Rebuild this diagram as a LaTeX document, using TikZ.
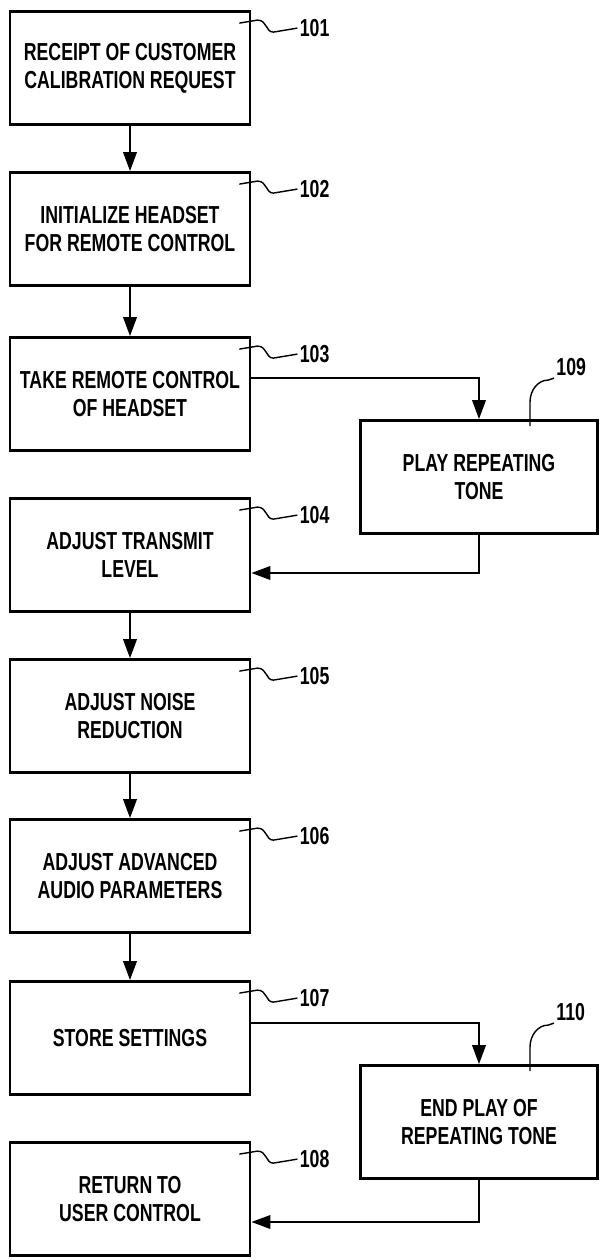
\documentclass[tikz,border=0pt]{standalone}
\usepackage{fontspec}
\setmainfont{Liberation Sans}[FakeStretch=0.72]
\usetikzlibrary{arrows.meta}

\begin{document}
\begin{tikzpicture}[x=0.02cm,y=-0.02cm,
    every node/.style={font=\bfseries\fontsize{14}{16}\selectfont},
    stepbox/.style={draw,line width=1.6pt,align=center,minimum width=4.8cm,minimum height=2.26cm,inner sep=2pt},
    sidebox/.style={stepbox,minimum width=4.74cm},
    flow/.style={line width=1.2pt,-{Triangle[length=0.38cm,width=0.27cm]}},
    lead/.style={line width=0.8pt},
    num/.style={anchor=west,inner sep=1pt}]
    \useasboundingbox (0,0) rectangle (600,1260);
    \node[stepbox] (s101) at (130,68) {RECEIPT OF CUSTOMER\\CALIBRATION REQUEST};
    \node[stepbox] (s102) at (130,229) {INITIALIZE HEADSET\\FOR REMOTE CONTROL};
    \node[stepbox] (s103) at (130,394) {TAKE REMOTE CONTROL\\OF HEADSET};
    \node[stepbox] (s104) at (130,555) {ADJUST TRANSMIT\\LEVEL};
    \node[stepbox] (s105) at (130,716) {ADJUST NOISE\\REDUCTION};
    \node[stepbox] (s106) at (130,876) {ADJUST ADVANCED\\AUDIO PARAMETERS};
    \node[stepbox] (s107) at (130,1038) {STORE SETTINGS};
    \node[stepbox] (s108) at (130,1199) {RETURN TO\\USER CONTROL};
    \node[sidebox] (s109) at (479,477) {PLAY REPEATING\\TONE};
    \node[sidebox] (s110) at (479,1122) {END PLAY OF\\REPEATING TONE};
    \draw[flow] (s101) -- (s102);
    \draw[flow] (s102) -- (s103);
    \draw[flow] (s104) -- (s105);
    \draw[flow] (s105) -- (s106);
    \draw[flow] (s106) -- (s107);
    \draw[flow] ([yshift=0.32cm]s103.east) -| (s109);
    \draw[flow] (s109) |- ([yshift=-0.36cm]s104.east);
    \draw[flow] ([yshift=0.30cm]s107.east) -| (s110);
    \draw[flow] (s110) |- ([yshift=-0.46cm]s108.east);
    \draw[lead] ([shift={(-12,13)}]s101.north east) -- ++(18,-3) .. controls +(10,0) and +(-8,0) .. ++(16,12) -- ++(24,-4) node[num] {101};
    \draw[lead] ([shift={(-12,13)}]s102.north east) -- ++(18,-3) .. controls +(10,0) and +(-8,0) .. ++(16,12) -- ++(24,-4) node[num] {102};
    \draw[lead] ([shift={(-12,13)}]s103.north east) -- ++(18,-3) .. controls +(10,0) and +(-8,0) .. ++(16,12) -- ++(24,-4) node[num] {103};
    \draw[lead] ([shift={(-12,13)}]s104.north east) -- ++(18,-3) .. controls +(10,0) and +(-8,0) .. ++(16,12) -- ++(24,-4) node[num] {104};
    \draw[lead] ([shift={(-12,13)}]s105.north east) -- ++(18,-3) .. controls +(10,0) and +(-8,0) .. ++(16,12) -- ++(24,-4) node[num] {105};
    \draw[lead] ([shift={(-12,13)}]s106.north east) -- ++(18,-3) .. controls +(10,0) and +(-8,0) .. ++(16,12) -- ++(24,-4) node[num] {106};
    \draw[lead] ([shift={(-12,13)}]s107.north east) -- ++(18,-3) .. controls +(10,0) and +(-8,0) .. ++(16,12) -- ++(24,-4) node[num] {107};
    \draw[lead] ([shift={(-12,13)}]s108.north east) -- ++(18,-3) .. controls +(10,0) and +(-8,0) .. ++(16,12) -- ++(24,-4) node[num] {108};
    \draw[lead] ([shift={(51,7)}]s109.north) -- ++(0,-24) .. controls +(0,-12) and +(-10,0) .. ++(18,-22) -- ++(6,-2) node[num,anchor=south west] {109};
    \draw[lead] ([shift={(51,7)}]s110.north) -- ++(0,-24) .. controls +(0,-12) and +(-10,0) .. ++(18,-22) -- ++(6,-2) node[num,anchor=south west] {110};
\end{tikzpicture}
\end{document}
